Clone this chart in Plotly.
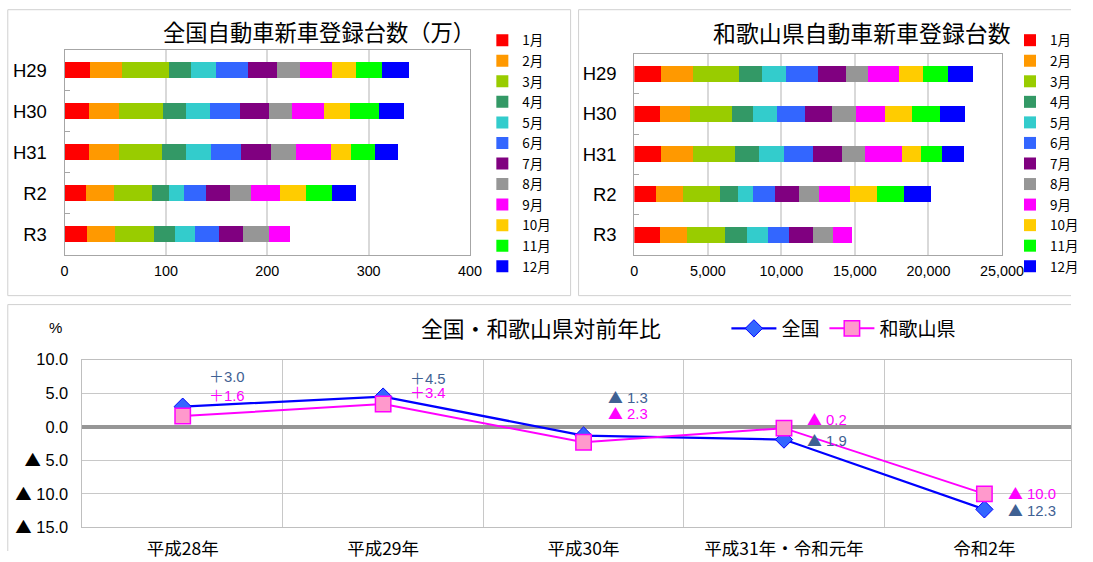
import plotly.graph_objects as go

# ---------------- data ----------------
years = ["H29", "H30", "H31", "R2", "R3"]
months = ["1月", "2月", "3月", "4月", "5月", "6月", "7月", "8月", "9月", "10月", "11月", "12月"]

# 全国 (万台) monthly new registrations
nat_h29 = [25.4, 31.6, 45.7, 22.5, 24.0, 31.9, 28.0, 22.8, 32.0, 23.2, 26.1, 26.2]
nat_h30 = [24.0, 29.4, 44.2, 22.5, 23.6, 29.4, 28.4, 23.2, 31.2, 25.8, 28.3, 25.0]
nat_h31 = [24.0, 30.1, 42.5, 23.2, 24.3, 29.8, 30.1, 24.0, 34.8, 19.6, 23.6, 22.5]
nat_r2 = [21.4, 26.9, 38.1, 16.7, 15.2, 21.4, 24.0, 20.3, 28.7, 25.8, 25.7, 23.6]
nat_r3 = [22.5, 26.9, 38.8, 21.1, 19.2, 24.3, 23.6, 25.1, 20.6]

# 和歌山県 (台) monthly new registrations
wak_h29 = [1829, 2168, 3117, 1558, 1671, 2123, 1897, 1536, 2100, 1626, 1716, 1694]
wak_h30 = [1739, 2032, 2846, 1468, 1603, 1942, 1807, 1626, 2010, 1807, 1897, 1694]
wak_h31 = [1829, 2191, 2800, 1671, 1717, 1942, 1942, 1626, 2484, 1288, 1468, 1467]
wak_r2 = [1491, 1851, 2485, 1242, 971, 1513, 1626, 1400, 2078, 1852, 1851, 1830]
wak_r3 = [1739, 1874, 2530, 1535, 1378, 1491, 1580, 1378, 1287]

# 対前年比 (%)
yoy_categories = ["平成28年", "平成29年", "平成30年", "平成31年・令和元年", "令和2年"]
yoy_national = [3.0, 4.5, -1.3, -1.9, -12.3]
yoy_wakayama = [1.6, 3.4, -2.3, -0.2, -10.0]

y_tickvals = [10, 5, 0, -5, -10, -15]
y_ticktext = ["10.0", "5.0", "0.0", "▲ 5.0", "▲ 10.0", "▲ 15.0"]

# ---------------- styles / layout ----------------
month_colors = ["#FF0000", "#FF9900", "#99CC00", "#339966", "#33CCCC", "#3366FF",
                "#800080", "#969696", "#FF00FF", "#FFCC00", "#00FF00", "#0000FF"]
FONT = "Liberation Sans, Arial, Noto Sans CJK JP, sans-serif"
JFONT = "Noto Sans CJK JP, sans-serif"
TRI = '<span style="font-family:Noto Sans CJK JP">%s</span>'
W, H = 1093, 562

# the photographed page comes out slightly reduced and offset; compensate
AX, BX, AY, BY = 0.98, 4.2, 0.968, 7.3
FS = 1.027  # font compensation


def cx(x):
    return (x - BX) / AX


def cy(y):
    return (y - BY) / AY


def px(x):
    return cx(x) / W


def py(y):
    return 1 - cy(y) / H


def pxc(x):  # css px -> paper
    return x / W


def pyc(y):
    return 1 - y / H


# data-label offsets (pixels)
nat_label_dy = [31, 19.6, 39, 0, 0]
wak_label_dy = [21.7, 12.4, 30, 9.3, 1]
label_dx = [24.5, 24.5, 22.5, 21.5, 21.5]


def cjk_marks(s):
    return s.replace("▲", TRI % "▲").replace("＋", TRI % "＋")


fig = go.Figure()

nat_rows = [nat_h29, nat_h30, nat_h31, nat_r2, nat_r3]
wak_rows = [wak_h29, wak_h30, wak_h31, wak_r2, wak_r3]

for m in range(12):
    fig.add_trace(go.Bar(
        y=years, x=[row[m] if m < len(row) else None for row in nat_rows],
        orientation="h", name=months[m],
        marker=dict(color=month_colors[m], line=dict(width=0)),
        xaxis="x", yaxis="y", legend="legend"))

for m in range(12):
    fig.add_trace(go.Bar(
        y=years, x=[row[m] if m < len(row) else None for row in wak_rows],
        orientation="h", name=months[m],
        marker=dict(color=month_colors[m], line=dict(width=0)),
        xaxis="x2", yaxis="y2", legend="legend2"))

fig.add_trace(go.Scatter(
    x=yoy_categories, y=yoy_national, mode="lines+markers", name="全国",
    line=dict(color="#0000FF", width=2.25),
    marker=dict(symbol="diamond", size=13.3, color="#3366FF", line=dict(color="#0000FF", width=1)),
    xaxis="x3", yaxis="y3", legend="legend3"))
fig.add_trace(go.Scatter(
    x=yoy_categories, y=yoy_wakayama, mode="lines+markers", name="和歌山県",
    line=dict(color="#FF00FF", width=2),
    marker=dict(symbol="square", size=15.4, color="#FF99CC", line=dict(color="#FF00FF", width=1.5)),
    xaxis="x3", yaxis="y3", legend="legend3"))


def fmt(v):
    return cjk_marks(("＋%.1f" % v) if v >= 0 else ("▲ %.1f" % abs(v)))


annotations = []
for i, c in enumerate(yoy_categories):
    annotations.append(dict(x=c, y=yoy_national[i], xref="x3", yref="y3", text=fmt(yoy_national[i]),
                            showarrow=False, xanchor="left", yanchor="middle",
                            xshift=label_dx[i], yshift=nat_label_dy[i],
                            font=dict(family=FONT, size=14.5 * FS, color="#3F6193")))
    annotations.append(dict(x=c, y=yoy_wakayama[i], xref="x3", yref="y3", text=fmt(yoy_wakayama[i]),
                            showarrow=False, xanchor="left", yanchor="middle",
                            xshift=label_dx[i], yshift=wak_label_dy[i],
                            font=dict(family=FONT, size=14.5 * FS, color="#FF00FF")))

# titles
annotations += [
    dict(x=px(320), y=py(29), xref="paper", yref="paper", text="全国自動車新車登録台数（万）",
         showarrow=False, xanchor="center", yanchor="middle", font=dict(family=JFONT, size=22.3, color="#000")),
    dict(x=px(866), y=py(30), xref="paper", yref="paper", text="和歌山県自動車新車登録台数",
         showarrow=False, xanchor="center", yanchor="middle", font=dict(family=JFONT, size=22.9, color="#000")),
    dict(x=px(543), y=py(327), xref="paper", yref="paper", text="全国・和歌山県対前年比",
         showarrow=False, xanchor="center", yanchor="middle", font=dict(family=JFONT, size=21.8, color="#000")),
    dict(x=px(56), y=py(327), xref="paper", yref="paper", text="%",
         showarrow=False, xanchor="center", yanchor="middle", font=dict(family=FONT, size=15, color="#000")),
]


def seg(x0, y0, x1, y1):
    return dict(type="line", xref="paper", yref="paper",
                x0=min(px(x0), 1.0), y0=max(py(y0), 0.0), x1=min(px(x1), 1.0), y1=max(py(y1), 0.0),
                line=dict(color="#d0d0d0", width=1))


# panel frames (kept inside the canvas)
shapes = [
    seg(8, 8, 573, 8), seg(8, 8, 8, 295), seg(8, 295, 573, 295), seg(573, 8, 573, 295),
    seg(581, 8, 1200, 8), seg(581, 8, 581, 295), seg(581, 295, 1200, 295),
    seg(8, 304, 1200, 304), seg(8, 304, 8, 700),
]

bar_x_common = dict(showgrid=True, gridcolor="#d9d9d9", gridwidth=1.5, showline=True, mirror=True,
                    linecolor="#a6a6a6", linewidth=1, ticks="", zeroline=False, ticklabelstandoff=3,
                    tickfont=dict(family=FONT, size=14 * FS, color="#000"), fixedrange=True)
bar_y_common = dict(autorange="reversed", showline=True, mirror=True, linecolor="#a6a6a6", linewidth=1,
                    ticks="inside", ticklen=5, tickcolor="#a6a6a6", tickson="boundaries",
                    tickfont=dict(family=FONT, size=18.5, color="#000"), ticklabelstandoff=13)

legend_common = dict(xanchor="left", yanchor="top", font=dict(family=JFONT, size=13.5, color="#000"),
                     itemwidth=30, tracegroupgap=0, traceorder="normal", bgcolor="rgba(0,0,0,0)",
                     borderwidth=0, itemclick=False, itemdoubleclick=False)

# bottom category axis: keep category spacing, let the right boundary fall at the canvas edge
x3_left, x3_right = cx(83), cx(1089)
cat_w = (x3_right - x3_left) / 5.0
x3_dom_right = min(x3_right, W - 0.5)
x3_range = [-0.5, -0.5 + (x3_dom_right - x3_left) / cat_w]

fig.update_layout(
    width=W, height=H, autosize=False, margin=dict(l=0, r=0, t=0, b=0),
    paper_bgcolor="white", plot_bgcolor="white",
    barmode="stack", bargap=0.6,
    font=dict(family=FONT, color="#000"),
    xaxis=dict(domain=[px(65), px(472)], range=[0, 400], dtick=100, anchor="y", **bar_x_common),
    yaxis=dict(domain=[py(254), py(48)], anchor="x", **bar_y_common),
    xaxis2=dict(domain=[px(637), px(1006)], range=[0, 25000], dtick=5000, tickformat=",d", anchor="y2",
                **bar_x_common),
    yaxis2=dict(domain=[py(254), py(52)], anchor="x2", **bar_y_common),
    xaxis3=dict(domain=[pxc(x3_left), pxc(x3_dom_right)], range=x3_range, type="category", anchor="y3",
                tickson="boundaries", showgrid=True, gridcolor="#c8c8c8", gridwidth=1,
                showline=True, mirror=True, linecolor="#bfbfbf", ticks="", ticklabelstandoff=6,
                tickfont=dict(family=JFONT, size=17.5, color="#000")),
    yaxis3=dict(domain=[py(527.7), py(359.3)], range=[-15, 10], anchor="x3",
                tickvals=y_tickvals, ticktext=[cjk_marks(t) for t in y_ticktext],
                showgrid=True, gridcolor="#c8c8c8",
                zeroline=True, zerolinecolor="#969696", zerolinewidth=4,
                showline=True, mirror=True, linecolor="#bfbfbf", ticks="",
                tickfont=dict(family=FONT, size=16.4, color="#000"), ticklabelstandoff=10),
    legend=dict(x=pxc(490), y=pyc(16.5), **legend_common),
    legend2=dict(x=pxc(1030.5), y=pyc(16.5), **legend_common),
    legend3=dict(x=pxc(740), y=pyc(cy(328)), xanchor="left", yanchor="middle", orientation="h",
                 font=dict(family=JFONT, size=19, color="#000"), bgcolor="rgba(0,0,0,0)",
                 itemwidth=45, itemclick=False, itemdoubleclick=False),
    annotations=annotations, shapes=shapes, showlegend=True,
)

fig.write_html(
    "out.html",
    config={"displayModeBar": False},
    post_script=("document.documentElement.style.overflow='hidden';"
                 "document.body.style.margin='0px';document.body.style.overflow='hidden';"),
)
